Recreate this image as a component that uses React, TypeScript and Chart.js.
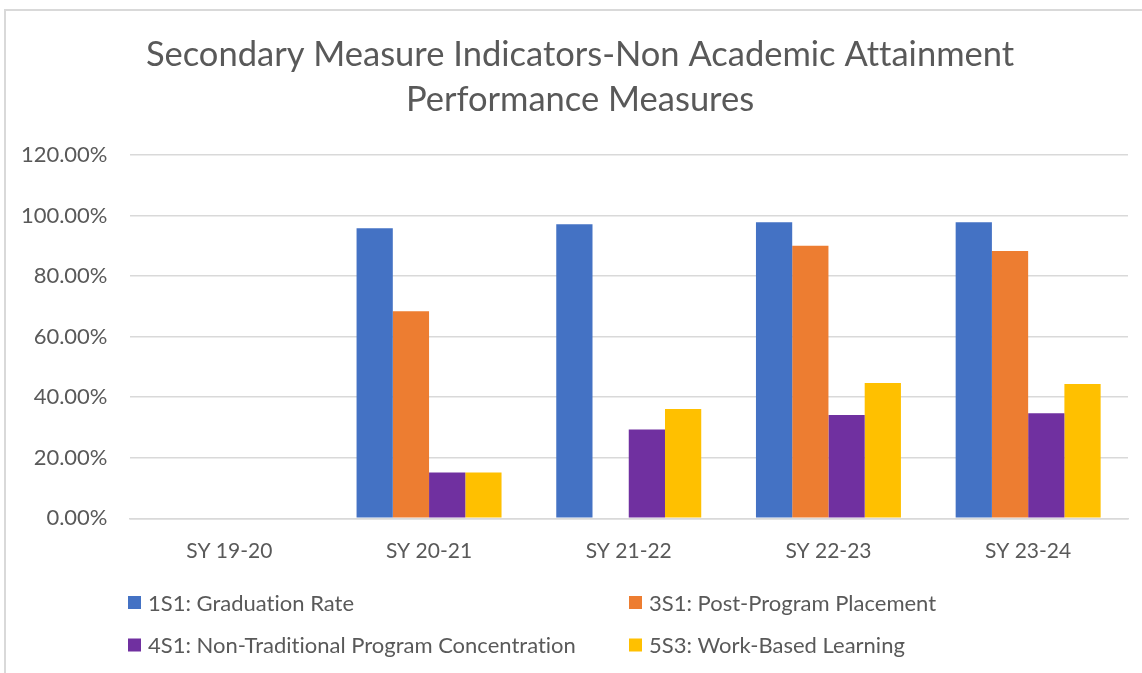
import React, { useEffect, useRef } from "react";
import { Chart, registerables } from "chart.js";

Chart.register(...registerables);

const categories = ["SY 19-20", "SY 20-21", "SY 21-22", "SY 22-23", "SY 23-24"];
const titleLines = [
  "Secondary Measure Indicators-Non Academic Attainment",
  "Performance Measures",
];
const seriesNames = [
  "1S1: Graduation Rate",
  "3S1: Post-Program Placement",
  "4S1: Non-Traditional Program Concentration",
  "5S3: Work-Based Learning",
];
const graduationRate = [null, 95.8, 97.1, 97.8, 97.8];
const postProgramPlacement = [null, 68.4, null, 90.0, 88.3];
const nonTraditional = [null, 15.1, 29.3, 34.1, 34.7];
const workBasedLearning = [null, 15.1, 36.1, 44.7, 44.4];
const seriesColors = ["#4472C4", "#ED7D31", "#7030A0", "#FFC000"];
const yTicks = [0, 20, 40, 60, 80, 100, 120];

const FONT = "Lato, 'Open Sans', sans-serif";
const TEXT = "#595959";

const noLigatures = {
  id: "noLigatures",
  beforeDraw(chart: any) {
    const ctx: any = chart.ctx;
    ctx.textRendering = "optimizeSpeed";
  },
};

const gridLegend = {
  id: "gridLegend",
  afterDraw(chart: any) {
    const ctx: any = chart.ctx;
    const cols = [128, 629];
    const rows = [602.5, 645];
    ctx.save();
    ctx.textRendering = "optimizeSpeed";
    ctx.font = `22px ${FONT}`;
    ctx.textBaseline = "middle";
    ctx.textAlign = "left";
    chart.data.datasets.forEach((ds: any, i: number) => {
      const x = cols[i % 2];
      const y = rows[Math.floor(i / 2)];
      ctx.fillStyle = ds.backgroundColor;
      ctx.fillRect(x, y - 6.5, 13, 13);
      ctx.fillStyle = TEXT;
      ctx.fillText(ds.label, x + 20, y + 1);
    });
    ctx.restore();
  },
};

export default function App() {
  const ref = useRef<HTMLCanvasElement | null>(null);
  useEffect(() => {
    if (!ref.current) return;
    const values = [graduationRate, postProgramPlacement, nonTraditional, workBasedLearning];
    const chart = new Chart(ref.current, {
      type: "bar",
      data: {
        labels: categories,
        datasets: seriesNames.map((name, i) => ({
          label: name,
          data: values[i],
          backgroundColor: seriesColors[i],
          borderWidth: 0,
          barPercentage: 1,
          categoryPercentage: 0.726,
        })),
      },
      options: {
        responsive: false,
        animation: false,
        devicePixelRatio: 1,
        layout: { padding: { left: 18, right: 0, top: 0, bottom: 89.5 } },
        plugins: {
          legend: { display: false },
          tooltip: { enabled: false },
          title: {
            display: true,
            text: titleLines,
            color: TEXT,
            font: { family: FONT, size: 34.5, weight: "normal", lineHeight: 45 / 34.5 },
            padding: { top: 32.5, bottom: 32.5 },
          },
        },
        scales: {
          x: {
            grid: { display: false, drawTicks: false },
            border: { display: true, color: "#d9d9d9", width: 1.5 },
            ticks: { color: TEXT, font: { family: FONT, size: 21 }, padding: 20 },
          },
          y: {
            min: 0,
            max: 120,
            afterFit: (s: any) => {
              s.width = 111.5;
            },
            afterBuildTicks: (s: any) => {
              s.ticks = yTicks.map((v) => ({ value: v }));
            },
            grid: { color: "#d9d9d9", lineWidth: 1.5, drawTicks: false },
            border: { display: false },
            ticks: {
              color: TEXT,
              font: { family: FONT, size: 22 },
              padding: 22,
              callback: (v: any) => `${Number(v).toFixed(2)}%`,
            },
          },
          yRightSpace: {
            position: "right",
            min: 0,
            max: 120,
            afterFit: (s: any) => {
              s.width = 14;
            },
            grid: { display: false, drawTicks: false },
            border: { display: false },
            ticks: { display: false },
          },
        },
      },
      plugins: [noLigatures, gridLegend],
    });
    return () => chart.destroy();
  }, []);
  return (
    <div style={{ position: "fixed", left: 0, top: 0, width: 1142, height: 673, overflow: "hidden", background: "#fff" }}>
      <canvas ref={ref} width={1142} height={673} style={{ position: "absolute", left: 0, top: 0 }} />
      <div
        style={{
          position: "absolute",
          left: 4,
          top: 9,
          width: 1200,
          height: 700,
          borderLeft: "2px solid #d9d9d9",
          borderTop: "2px solid #d9d9d9",
          pointerEvents: "none",
        }}
      />
    </div>
  );
}
